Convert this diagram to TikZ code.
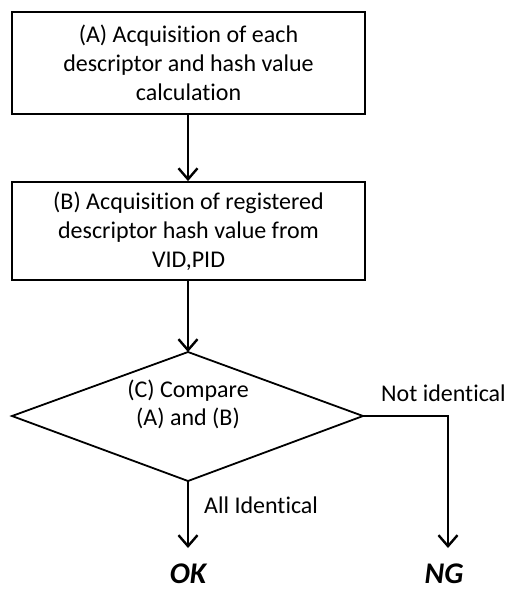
\documentclass[tikz,border=0pt]{standalone}
\usepackage{fontspec}
\setmainfont[Ligatures=NoCommon]{Carlito}
\usetikzlibrary{arrows.meta,shapes.geometric}
\begin{document}
\begin{tikzpicture}[x=1pt,y=-1pt,
  box/.style={draw,line width=1.8pt,minimum width=353pt,inner sep=0pt,align=center,font=\fontsize{24}{29}\selectfont},
  conn/.style={line width=2.4pt,-{Straight Barb[length=11pt,width=19pt,line width=2.4pt]}},
  lbl/.style={font=\fontsize{24}{29}\selectfont,inner sep=0pt},
  res/.style={font=\fontsize{30}{32}\selectfont\bfseries\itshape,inner sep=0pt}]
\useasboundingbox (0,0) rectangle (506,590);
\node[box,minimum height=102pt] (A) at (188.5,63) {(A) Acquisition of each\\descriptor and hash value\\calculation};
\node[box,minimum height=98pt] (B) at (188.5,231) {(B) Acquisition of registered\\descriptor hash value from\\VID,PID};
\coordinate (Ct) at (188,352);
\coordinate (Cl) at (12,416);
\coordinate (Cr) at (363,416);
\coordinate (Cb) at (188,481);
\draw[line width=1.8pt,line join=miter] (Ct) -- (Cr) -- (Cb) -- (Cl) -- cycle;
\node[lbl,align=center,font=\fontsize{24}{28}\selectfont] (C) at (188,404) {(C) Compare\\(A) and (B)};
\coordinate (NGc) at (448,416);
\node[res] (OK) at (188,574) {OK};
\node[res] (NG) at (444,574) {NG};
\coordinate (OKt) at (188,548);
\coordinate (NGt) at (448,548);
\draw[conn] (A.south -| Ct) -- (B.north -| Ct);
\draw[conn] (B.south -| Ct) -- (Ct);
\draw[conn] (Cb) -- (OKt);
\draw[conn] (Cr) -- (NGc) -- (NGt);
\node[lbl,anchor=west] (L1) at (204,505) {All Identical};
\node[lbl,anchor=west] (L2) at (381,393) {Not identical};
\end{tikzpicture}
\end{document}
